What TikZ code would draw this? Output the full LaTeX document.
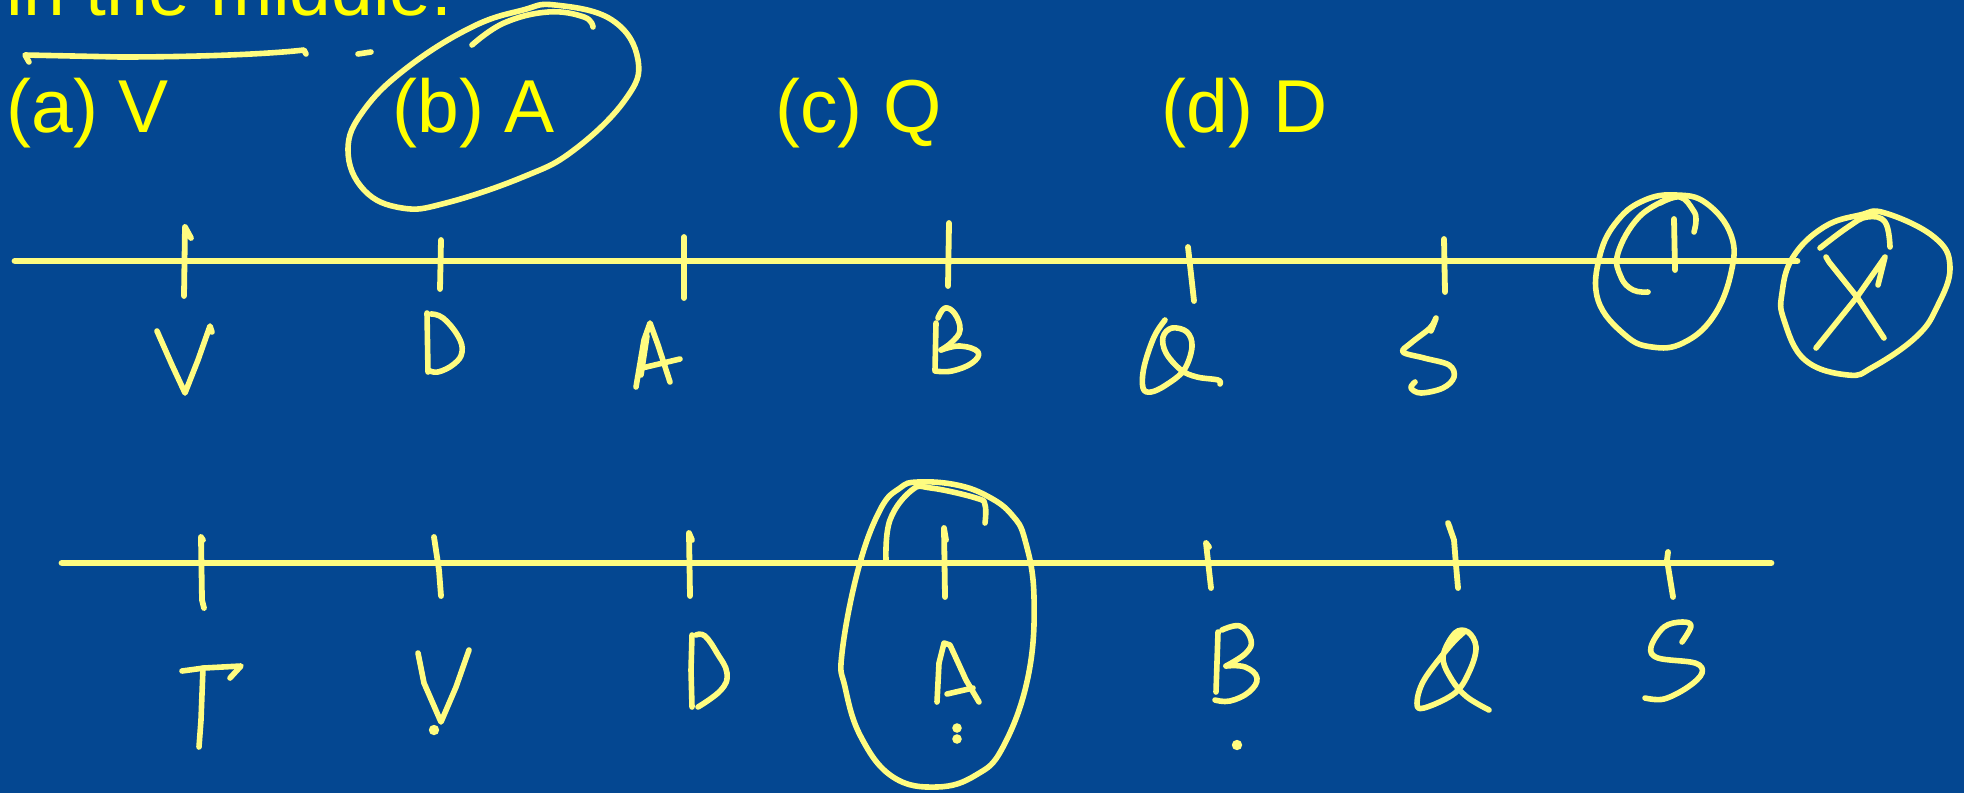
\documentclass[tikz,border=0pt]{standalone}
\usepackage{fontspec}
\setmainfont{Liberation Sans}
\definecolor{bg}{RGB}{4,71,145}
\definecolor{hand}{RGB}{255,252,128}
\definecolor{print}{RGB}{255,255,0}
\tikzset{
  hand/.style={draw=hand, line width=2.8pt, line cap=round, line join=round},
  axisline/.style={draw=hand, line width=3.4pt, line cap=round},
  tick/.style={draw=hand, line width=2.9pt, line cap=round, line join=round},
  dotmark/.style={fill=hand},
  lbl/.style={text=print, font=\fontsize{37.5}{44}\selectfont, anchor=base west, inner sep=0pt}
}
\begin{document}
\begin{tikzpicture}[x=0.5pt,y=-0.5pt]
\useasboundingbox (0,0) rectangle (1964,793);
\clip (0,0) rectangle (1964,793);
\fill[bg] (0,0) rectangle (1964,793);

% printed text
\node[lbl] (title) at (6,15) {in the middle.};
\node[lbl] (optA) at (6,132) {(a) V};
\node[lbl] (optB) at (392,132) {(b) A};
\node[lbl] (optC) at (775,132) {(c) Q};
\node[lbl] (optD) at (1161,132) {(d) D};

% underline and dash
\draw[hand] (29,62) -- (25,55) -- (120,57) .. controls (200,57) and (270,54) .. (304,50) -- (306,54);
\draw[hand] (358,54) -- (371,52);

% ellipse around (b) A
\draw[hand] plot[smooth cycle, tension=0.7] coordinates {(555,5) (612,20) (638,60) (625,100) (574,150) (523,177) (446,203) (402,208) (364,190) (348,150) (364,110) (408,67) (472,27) (523,10)};
\draw[hand] plot[smooth, tension=0.7] coordinates {(472,45) (504,23) (548,12) (584,17) (593,27)};

% ---------- upper line ----------
\coordinate (u0) at (15,261);
\coordinate (u1) at (1797,261);
\draw[axisline] (u0) -- (u1);
\draw[tick] (191,238) -- (185,227) -- (184,296);
\draw[tick] (441,240) -- (440,289);
\draw[tick] (684,237) -- (684,298);
\draw[tick] (949,223) -- (948,286);
\draw[tick] (1188,247) -- (1194,301);
\draw[tick] (1444,239) -- (1445,292);

% V
\draw[hand] (157,331) -- (172,365) -- (185,393) -- (198,360) -- (210,326) -- (212,332);
% D
\draw[hand] (427,313) -- (428,372);
\draw[hand] plot[smooth, tension=0.7] coordinates {(431,314) (443,318) (458,336) (462,352) (454,364) (438,372) (428,370)};
% A
\draw[hand] (636,387) -- (644,340) -- (650,323) -- (658,345) -- (670,382);
\draw[hand] (641,375) -- (647,336);
\draw[hand] (642,368) -- (680,359);
% B
\draw[hand] (936,323) -- (935,370);
\draw[hand] plot[smooth, tension=0.7] coordinates {(938,318) (945,308) (955,314) (960,330) (952,342) (941,350)};
\draw[hand] plot[smooth, tension=0.7] coordinates {(941,350) (960,346) (978,352) (972,363) (952,371) (935,371)};
% Q
\draw[hand] plot[smooth, tension=0.6] coordinates {(1165,320) (1154,337) (1144,367) (1143,388) (1151,392) (1166,385) (1184,370) (1192,347) (1187,332) (1172,328) (1163,337) (1166,353) (1181,370) (1197,377) (1218,380) (1220,384)};
% S
\draw[hand] plot[smooth, tension=0.6] coordinates {(1431,331) (1436,318) (1430,328) (1411,343) (1403,352) (1424,358) (1449,365) (1454,377) (1443,388) (1421,393) (1411,388) (1415,382)};

% circled T
\draw[hand] plot[smooth cycle, tension=0.7] coordinates {(1676,195) (1706,203) (1731,235) (1731,273) (1713,317) (1683,343) (1652,347) (1625,335) (1598,300) (1600,255) (1618,220) (1645,200)};
\draw[hand] plot[smooth, tension=0.7] coordinates {(1670,198) (1639,217) (1618,253) (1621,277) (1633,290) (1648,292)};
\draw[tick] (1674,219) -- (1675,270);
\draw[hand] plot[smooth, tension=0.7] coordinates {(1660,203) (1680,197) (1693,210) (1696,220) (1694,232)};

% circled X
\draw[hand] plot[smooth cycle, tension=0.7] coordinates {(1885,213) (1934,237) (1950,267) (1937,307) (1916,337) (1873,367) (1848,375) (1805,360) (1784,320) (1782,293) (1793,257) (1824,227) (1860,215)};
\draw[hand] plot[smooth, tension=0.7] coordinates {(1820,248) (1848,227) (1867,217) (1885,222) (1890,247)};
\draw[hand] (1826,257) -- (1829,262) -- (1857,297) -- (1882,335) -- (1884,338);
\draw[hand] (1878,285) -- (1885,257) -- (1857,297) -- (1816,348);

% ---------- lower line ----------
\coordinate (l0) at (62,563);
\coordinate (l1) at (1771,563);
\draw[axisline] (l0) -- (l1);
\draw[tick] (203,540) -- (201,537) -- (202,600) -- (204,608);
\draw[tick] (434,537) -- (439,570) -- (441,596);
\draw[tick] (692,540) -- (689,533) -- (690,596);
\draw[tick] (946,540) -- (944,528) -- (945,597);
\draw[tick] (1209,547) -- (1206,543) -- (1211,588);
\draw[tick] (1450,528) -- (1448,523) -- (1454,540) -- (1456,565) -- (1458,588);
\draw[tick] (1668,552) -- (1667,560) -- (1673,597);

% T
\draw[hand] (182,671) -- (204,668) -- (241,666) -- (230,678);
\draw[hand] (203,668) -- (201,720) -- (199,747);
% V
\draw[hand] (418,653) -- (424,683) -- (441,722) -- (456,687) -- (469,650);
\fill[dotmark] (434,730) circle (2.6pt);
% D
\draw[hand] (692,635) -- (691,670) -- (692,707);
\draw[hand] plot[smooth, tension=0.7] coordinates {(696,635) (705,636) (717,653) (727,673) (721,690) (698,707)};
% A
\draw[hand] (937,702) -- (939,663) -- (944,643) -- (950,645) -- (966,680) -- (979,702);
\draw[hand] (947,694) -- (973,688);
\fill[dotmark] (957,728) circle (2.4pt);
\fill[dotmark] (957,739) circle (2.4pt);
% B
\draw[hand] (1218,632) -- (1216,692);
\draw[hand] plot[smooth, tension=0.7] coordinates {(1222,630) (1240,626) (1251,640) (1246,653) (1226,666)};
\draw[hand] plot[smooth, tension=0.7] coordinates {(1226,666) (1245,667) (1257,678) (1249,692) (1230,701) (1215,700)};
\fill[dotmark] (1237,745) circle (2.6pt);
% Q
\draw[hand] plot[smooth, tension=0.6] coordinates {(1464,632) (1449,647) (1424,680) (1417,703) (1424,708) (1455,693) (1470,670) (1476,647) (1468,632) (1455,633) (1443,657) (1452,680) (1467,697) (1489,710)};
% S
\draw[hand] plot[smooth, tension=0.6] coordinates {(1682,642) (1691,626) (1682,622) (1664,627) (1651,647) (1658,658) (1695,663) (1702,673) (1688,687) (1664,699) (1645,698)};

% ellipse around lower A
\draw[hand] plot[smooth cycle, tension=0.7] coordinates {(918,482) (957,485) (989,497) (1012,515) (1025,540) (1034,597) (1028,677) (1003,747) (976,775) (937,787) (893,777) (861,737) (845,687) (842,653) (858,570) (880,510) (900,488)};
\draw[hand] plot[smooth, tension=0.7] coordinates {(886,560) (890,520) (912,490) (931,488) (976,498) (985,505) (985,523)};
\end{tikzpicture}
\end{document}
